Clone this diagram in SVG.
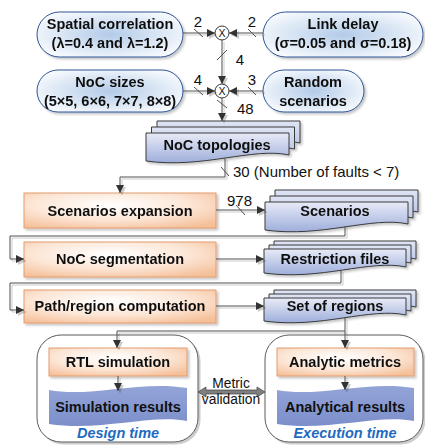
<svg xmlns="http://www.w3.org/2000/svg" xmlns:xlink="http://www.w3.org/1999/xlink" width="425" height="445" viewBox="0 0 425 445">
<style>
text{font-family:"Liberation Sans",Arial,sans-serif;fill:#111}
.b{font-weight:bold;font-size:14.5px}
.n{font-size:15px}
.sm{font-size:13.8px}
.blue{font-weight:bold;font-style:italic;font-size:14.5px;fill:#1f6bbf}
.pill{fill:url(#gPill);stroke:#2f5597;stroke-width:1}
.obox{fill:url(#gOr);stroke:#e29c6e;stroke-width:1}
.docF{fill:url(#gDoc);stroke:#3a3a3a;stroke-width:1}
.docB{fill:url(#gDocB);stroke:#3a3a3a;stroke-width:1}
.res{fill:url(#gRes)}
.cont{fill:#fff;stroke:#5a5a5a;stroke-width:1}
.conn path,.conn line{stroke:#505050;stroke-width:1;fill:none}
.arr{marker-end:url(#ah)}
.slash{stroke:#505050;stroke-width:1}
</style>
<defs>
<radialGradient id="gPill" cx="50%" cy="50%" r="60%">
<stop offset="0" stop-color="#b3cbe8"/><stop offset="1" stop-color="#f8fbfe"/>
</radialGradient>
<radialGradient id="gOr" cx="45%" cy="35%" r="75%">
<stop offset="0" stop-color="#ffffff"/><stop offset="0.55" stop-color="#fce6d6"/><stop offset="1" stop-color="#f5bf98"/>
</radialGradient>
<linearGradient id="gDoc" x1="0" y1="0" x2="0" y2="1">
<stop offset="0" stop-color="#e8ebf7"/><stop offset="1" stop-color="#9eaedb"/>
</linearGradient>
<linearGradient id="gDocB" x1="0" y1="0" x2="0" y2="1">
<stop offset="0" stop-color="#dfe5f5"/><stop offset="1" stop-color="#b3c0e4"/>
</linearGradient>
<linearGradient id="gRes" x1="0" y1="0" x2="0" y2="1">
<stop offset="0" stop-color="#93a4d8"/><stop offset="1" stop-color="#7c8fcb"/>
</linearGradient>
<filter id="sh" x="-10%" y="-10%" width="130%" height="150%">
<feDropShadow dx="2" dy="2" stdDeviation="1" flood-color="#000" flood-opacity="0.22"/>
</filter>
<filter id="lsh" x="-5%" y="-5%" width="115%" height="115%">
<feDropShadow dx="2" dy="2" stdDeviation="0.4" flood-color="#000" flood-opacity="0.2"/>
</filter>
<marker id="ah" viewBox="0 0 10 10" refX="10" refY="5" markerWidth="8" markerHeight="8" markerUnits="userSpaceOnUse" orient="auto">
<path d="M0,0 L10,5 L0,10 z" fill="#333"/>
</marker>
<path id="dTopo" d="M146,133 H289 V155 C253,147 203,169 146,161 Z"/>
<path id="dScen" d="M265,202 H408 V224 C372,216 322,238 265,230 Z"/>
<path id="dRestr" d="M264,249 H406 V267 C370,259 321,281 264,273 Z"/>
<path id="dSet" d="M264,298 H406 V315 C370,307 321,329 264,321 Z"/>
</defs>

<g id="spatial" filter="url(#sh)">
<rect class="pill" x="37" y="12" width="146" height="45" rx="22.5"/>
<text class="b" x="110" y="29" text-anchor="middle">Spatial correlation</text>
<text class="b" x="110" y="48" text-anchor="middle">(λ=0.4 and λ=1.2)</text>
</g>
<g id="linkdelay" filter="url(#sh)">
<rect class="pill" x="263" y="12" width="160" height="45" rx="22.5"/>
<text class="b" x="343" y="29" text-anchor="middle">Link delay</text>
<text class="b" x="343" y="48" text-anchor="middle">(σ=0.05 and σ=0.18)</text>
</g>
<g id="nocsizes" filter="url(#sh)">
<rect class="pill" x="37" y="70" width="146" height="42" rx="21"/>
<text class="b" x="110" y="87" text-anchor="middle">NoC sizes</text>
<text class="b" x="110" y="106" text-anchor="middle">(5×5, 6×6, 7×7, 8×8)</text>
</g>
<g id="random" filter="url(#sh)">
<rect class="pill" x="263" y="70" width="101" height="42" rx="21"/>
<text class="b" x="313" y="87" text-anchor="middle">Random</text>
<text class="b" x="313" y="106" text-anchor="middle">scenarios</text>
</g>

<g id="mult1">
<circle cx="222" cy="33" r="7" fill="#fff" stroke="#333" stroke-width="1"/>
<text x="222" y="37" font-size="10.5" text-anchor="middle">X</text>
</g>
<g id="mult2">
<circle cx="222" cy="91" r="7" fill="#fff" stroke="#333" stroke-width="1"/>
<text x="222" y="95" font-size="10.5" text-anchor="middle">X</text>
</g>

<g id="topologies" filter="url(#sh)">
<use xlink:href="#dTopo" href="#dTopo" class="docB" transform="translate(11,-12)"/>
<use xlink:href="#dTopo" href="#dTopo" class="docB" transform="translate(5.5,-6)"/>
<use xlink:href="#dTopo" href="#dTopo" class="docF"/>
<text class="b" x="217" y="150" text-anchor="middle">NoC topologies</text>
</g>
<g id="scenarios" filter="url(#sh)">
<use xlink:href="#dScen" href="#dScen" class="docB" transform="translate(10,-12)"/>
<use xlink:href="#dScen" href="#dScen" class="docB" transform="translate(5,-6)"/>
<use xlink:href="#dScen" href="#dScen" class="docF"/>
<text class="b" x="335" y="216" text-anchor="middle">Scenarios</text>
</g>
<g id="restriction" filter="url(#sh)">
<use xlink:href="#dRestr" href="#dRestr" class="docB" transform="translate(10,-8)"/>
<use xlink:href="#dRestr" href="#dRestr" class="docB" transform="translate(5,-4)"/>
<use xlink:href="#dRestr" href="#dRestr" class="docF"/>
<text class="b" x="335" y="264" text-anchor="middle">Restriction files</text>
</g>
<g id="setregions" filter="url(#sh)">
<use xlink:href="#dSet" href="#dSet" class="docB" transform="translate(10,-8)"/>
<use xlink:href="#dSet" href="#dSet" class="docB" transform="translate(5,-4)"/>
<use xlink:href="#dSet" href="#dSet" class="docF"/>
<text class="b" x="335" y="311" text-anchor="middle">Set of regions</text>
</g>

<g id="expansion" filter="url(#sh)">
<rect class="obox" x="24" y="193" width="192" height="35"/>
<text class="b" x="120" y="216" text-anchor="middle">Scenarios expansion</text>
</g>
<g id="segmentation" filter="url(#sh)">
<rect class="obox" x="24" y="242" width="192" height="35"/>
<text class="b" x="120" y="264" text-anchor="middle">NoC segmentation</text>
</g>
<g id="pathregion" filter="url(#sh)">
<rect class="obox" x="24" y="290" width="192" height="33"/>
<text class="b" x="120" y="311" text-anchor="middle">Path/region computation</text>
</g>

<g id="designtime">
<rect class="cont" x="37" y="335" width="161" height="107" rx="24" filter="url(#lsh)"/>
<g id="rtl" filter="url(#sh)">
<rect class="obox" x="49" y="348" width="138" height="28"/>
<text class="b" x="118" y="367" text-anchor="middle">RTL simulation</text>
</g>
<g id="simresults">
<path class="res" d="M49,390 C90,398 140,380 187,388 V421 C150,414 100,432 49,424 Z"/>
<text class="b" x="118" y="412" text-anchor="middle">Simulation results</text>
</g>
<text class="blue" x="118" y="438" text-anchor="middle">Design time</text>
</g>

<g id="executiontime">
<rect class="cont" x="265" y="335" width="158" height="107" rx="24" filter="url(#lsh)"/>
<g id="analytic" filter="url(#sh)">
<rect class="obox" x="277" y="348" width="137" height="28"/>
<text class="b" x="345" y="367" text-anchor="middle">Analytic metrics</text>
</g>
<g id="anresults">
<path class="res" d="M277,390 C318,398 368,380 414,388 V421 C377,414 327,432 277,424 Z"/>
<text class="b" x="345" y="412" text-anchor="middle">Analytical results</text>
</g>
<text class="blue" x="345" y="438" text-anchor="middle">Execution time</text>
</g>

<g id="connectors">
<g class="conn" filter="url(#lsh)">
<path class="arr" d="M183,33 H215"/>
<path class="arr" d="M263,33 H229"/>
<path class="arr" d="M222,40 V84"/>
<path class="arr" d="M183,91 H215"/>
<path class="arr" d="M263,91 H229"/>
<path class="arr" d="M222,98 V121"/>
<path class="arr" d="M225,158 V177 H120 V193"/>
<path class="arr" d="M216,210 H265"/>
<path class="arr" d="M345,226 V236 H10 V259 H24"/>
<path class="arr" d="M216,259 H264"/>
<path class="arr" d="M341,270 V283 H10 V310 H24"/>
<path class="arr" d="M216,306 H264"/>
<path class="arr" d="M345,318 V348"/>
<path class="arr" d="M345,331 H117 V348"/>
<path class="arr" d="M118,376 V391"/>
<path class="arr" d="M345,376 V390"/>
</g>
<line class="slash" x1="194" y1="29" x2="203" y2="37"/>
<line class="slash" x1="248" y1="29" x2="256" y2="37"/>
<line class="slash" x1="217" y1="60" x2="227" y2="50"/>
<line class="slash" x1="194" y1="87" x2="203" y2="95"/>
<line class="slash" x1="248" y1="87" x2="256" y2="95"/>
<line class="slash" x1="217" y1="100" x2="227" y2="108"/>
<line class="slash" x1="221" y1="167" x2="229" y2="176"/>
<line class="slash" x1="236" y1="205" x2="245" y2="215"/>
<polygon points="198,392 206,387 206,390 257,390 257,387 265,392 257,397 257,394 206,394 206,397" fill="#7f7f7f" stroke="#404040" stroke-width="0.7"/>
<text class="n" x="198" y="27" text-anchor="middle">2</text>
<text class="n" x="252" y="27" text-anchor="middle">2</text>
<text class="n" x="240" y="65" text-anchor="middle">4</text>
<text class="n" x="198" y="85" text-anchor="middle">4</text>
<text class="n" x="252" y="85" text-anchor="middle">3</text>
<text class="n" x="237" y="114">48</text>
<text class="n" x="233" y="177">30 (Number of faults &lt; 7)</text>
<text class="n" x="227" y="206">978</text>
<text class="sm" x="231" y="388" text-anchor="middle">Metric</text>
<text class="sm" x="231" y="404" text-anchor="middle">validation</text>
</g>
</svg>
